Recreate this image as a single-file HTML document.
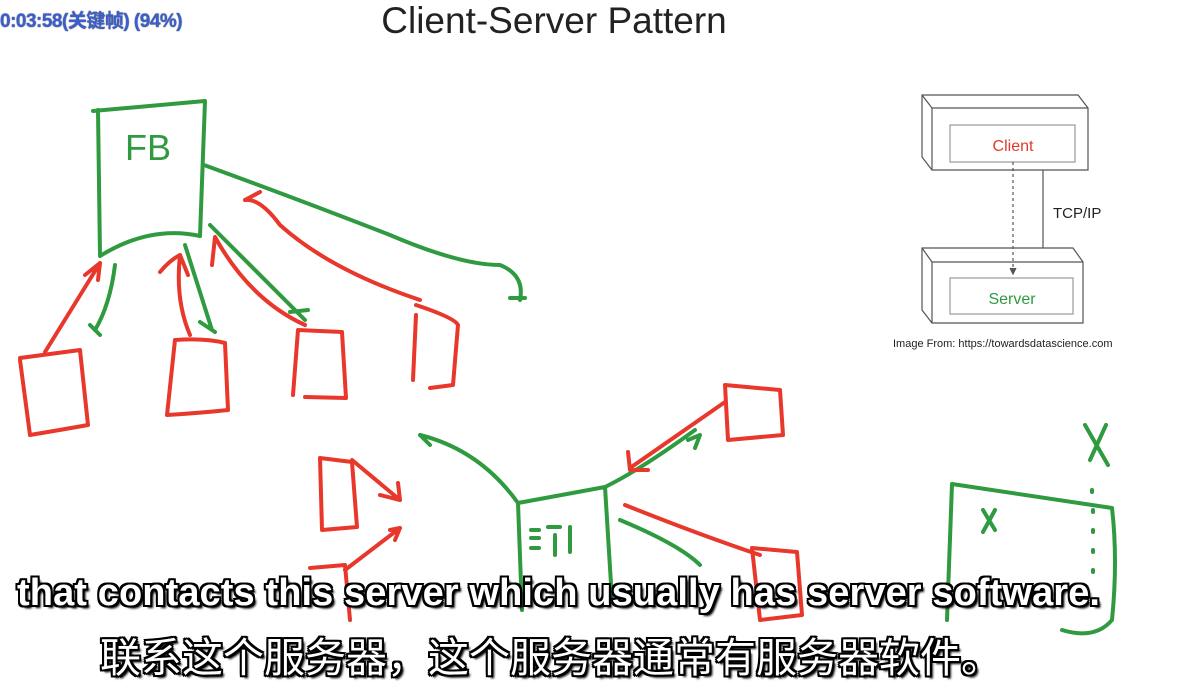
<!DOCTYPE html>
<html><head><meta charset="utf-8"><style>
body{margin:0;background:#fff;width:1182px;height:683px;overflow:hidden;position:relative;font-family:"Liberation Sans","Noto Sans CJK SC",sans-serif}
svg{position:absolute;left:0;top:0}
.g{stroke:#2f9a3f;fill:none;stroke-width:4;stroke-linecap:round;stroke-linejoin:round}
.r{stroke:#e8372b;fill:none;stroke-width:4;stroke-linecap:round;stroke-linejoin:round}
.sub{position:absolute;color:#fff;font-weight:bold;white-space:nowrap;text-shadow:-2px 0 #000,2px 0 #000,0 -2px #000,0 2px #000,-2px -2px #000,2px 2px #000,-2px 2px #000,2px -2px #000,3px 3px 2px #000}
</style></head><body>
<svg width="1182" height="683">
<text x="554" y="33" font-size="37" text-anchor="middle" fill="#222">Client-Server Pattern</text>
<g>
<path class="g" d="M93 111 L205 101 L200 236 Q150 225 100 256 L98 110"/>
<text x="125" y="160" font-size="36" fill="#2f9a3f" font-family="Liberation Sans">FB</text>
<path class="g" d="M204 165 Q300 200 390 235 Q460 265 500 265 Q525 275 520 300 M510 298 L525 298"/>
<path class="r" d="M420 300 Q330 270 280 225 Q260 198 245 200 M245 200 L260 192"/>
<path class="r" d="M45 352 L100 263 M85 275 L100 263 L98 280"/>
<path class="g" d="M115 265 Q110 305 95 330 M90 325 L100 335"/>
<path class="r" d="M190 335 Q175 300 180 255 Q170 260 160 272 M180 255 L188 275"/>
<path class="g" d="M185 245 L212 330 M200 322 L215 332"/>
<path class="r" d="M305 325 Q250 300 215 237 L212 265"/>
<path class="g" d="M210 225 L305 320 M290 312 L308 310"/>
<path class="r" d="M20 358 L80 350 L88 425 Q60 430 30 435 L20 360"/>
<path class="r" d="M175 340 Q205 338 225 343 L228 410 Q200 413 167 415 L175 340"/>
<path class="r" d="M298 330 L342 332 L346 398 L305 397 M298 330 L293 395"/>
<path class="r" d="M416 305 Q455 318 458 325 L453 385 L430 388 M416 315 L413 380"/>
</g>
<g>
<path class="g" d="M518 503 L605 487 L612 600 M518 503 L522 610"/>
<path class="g" d="M531 530 h8 M531 538 h8 M531 548 h8 M548 527 h12 M555 535 v20 M570 527 v25"/>
<path class="g" d="M518 503 Q480 450 420 435 M430 445 L420 435"/>
<path class="g" d="M605 487 Q640 470 695 430 M688 440 L700 435 L695 448"/>
<path class="r" d="M725 402 L630 468 M628 452 L630 470 L648 470"/>
<path class="r" d="M725 385 L780 390 L783 435 L728 440 Z"/>
<path class="r" d="M320 458 L352 462 L357 527 L322 530 Z"/>
<path class="r" d="M352 460 L400 500 M380 495 L400 500 L398 483"/>
<path class="r" d="M345 570 L400 528 M390 530 L400 528 L395 540"/>
<path class="r" d="M625 505 Q700 535 760 555"/>
<path class="g" d="M620 520 Q680 545 700 565"/>
<path class="r" d="M752 548 L797 552 L802 615 L760 620 Z"/>
<path class="r" d="M310 568 L345 565 L350 620"/>
</g>
<g>
<path class="g" d="M952 484 L1112 508 Q1118 560 1112 620 Q1095 640 1062 630 M952 484 L947 620"/>
<path class="g" d="M983 510 L995 530 M995 510 L983 532"/>
<path class="g" d="M1085 425 L1108 465 M1106 425 L1090 460"/>
<path class="g" d="M1092 490 v2 M1093 510 v2 M1093 530 v2 M1093 550 v2 M1093 570 v2"/>
</g>
<g stroke="#555" fill="none" stroke-width="1.2">
<path d="M922 95 L1078 95 L1088 108 L1088 170 L932 170 L922 157 Z M922 95 L932 108 L1088 108 M932 108 V170"/>
<rect x="950" y="125" width="125" height="37" stroke="#999"/>
<path d="M922 248 L1073 248 L1083 262 L1083 323 L932 323 L922 310 Z M922 248 L932 262 L1083 262 M932 262 V323"/>
<rect x="950" y="278" width="123" height="36" stroke="#999"/>
<path d="M1043 170 V248"/>
<path d="M1013 162 V270" stroke-dasharray="3 3"/>
<path d="M1010 268 L1013 274 L1016 268" fill="#555"/>
</g>
<text x="1013" y="151" font-size="16" fill="#e03a2c" text-anchor="middle">Client</text>
<text x="1012" y="304" font-size="16" fill="#2f9a3f" text-anchor="middle">Server</text>
<text x="1053" y="218" font-size="15" fill="#222">TCP/IP</text>
<text x="893" y="347" font-size="11" fill="#222">Image From: https://towardsdatascience.com</text>
</svg>
<div style="position:absolute;left:0;top:6px;font-size:19px;font-weight:bold;color:#3a5fd0;text-shadow:0 0 1px #000;letter-spacing:-0.5px">0:03:58(关键帧) (94%)</div>
<div class="sub" style="left:17px;top:572px;font-size:38px;letter-spacing:0.1px">that contacts this server which usually has server software.</div>
<div class="sub" style="left:100px;top:624px;font-size:41px;font-weight:normal">联系这个服务器，这个服务器通常有服务器软件。</div>
</body></html>
